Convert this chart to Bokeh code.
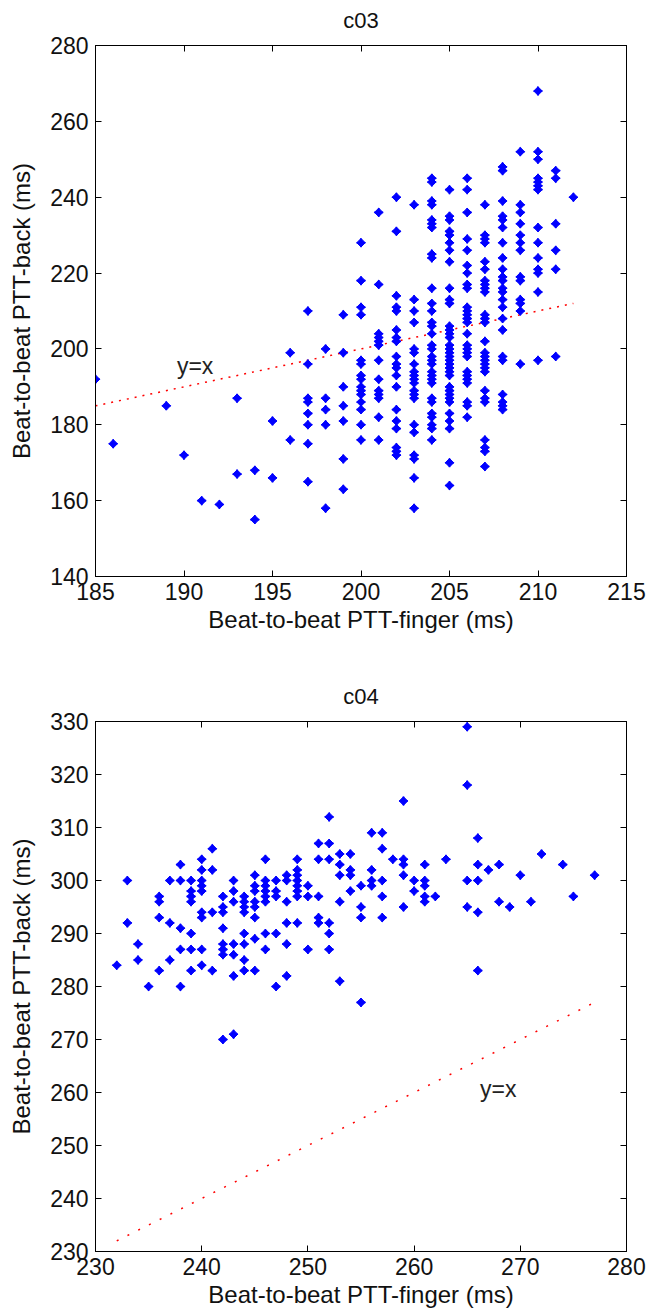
import math
from bokeh.plotting import figure
from bokeh.layouts import column
from bokeh.models import LinearAxis, Range1d, Label, FixedTicker, CustomLabelingPolicy
from bokeh.embed import file_html
from bokeh.resources import INLINE

# ---------------- data: c03 ----------------
c03_finger_cols = [185, 186, 189, 190, 191, 192, 193, 194, 195, 196, 197, 198, 199,
                   200, 201, 202, 203, 204, 205, 206, 207, 208, 209, 210, 211, 212]
c03_back_by_col = [
    [192],
    [175],
    [185],
    [172],
    [160],
    [159],
    [187, 167],
    [168, 155],
    [181, 166],
    [199, 176],
    [210, 196, 187, 186, 183, 180, 175, 165],
    [200, 187, 184, 180, 158],
    [209, 199, 190, 185, 181, 171, 163],
    [228, 218, 211, 209, 197, 196, 193, 192, 190, 189, 188, 186, 184, 180, 176],
    [236, 217, 204, 203, 202, 201, 197, 192, 189, 188, 187, 182, 176],
    [240, 231, 214, 211, 210, 205, 203, 202, 198, 196, 195, 193, 190, 184, 181, 179, 174, 173, 172],
    [238, 213, 210, 207, 200, 199, 196, 194, 193, 192, 191, 189, 188, 187, 180, 178, 172, 171, 166, 158],
    [245, 244, 239, 238, 234, 233, 232, 225, 224, 216, 212, 210, 207, 206, 204, 201, 200, 198, 197,
     196, 194, 193, 192, 191, 187, 186, 183, 182, 180, 179, 176],
    [242, 235, 234, 231, 230, 228, 226, 223, 216, 213, 212, 206, 205, 204, 203, 201, 200, 199, 198,
     197, 196, 195, 194, 193, 190, 189, 188, 187, 186, 183, 181, 179, 170, 164],
    [245, 242, 236, 229, 226, 222, 220, 217, 216, 211, 210, 209, 208, 207, 204, 201, 200, 199, 198,
     194, 193, 192, 191, 186, 185, 182],
    [238, 230, 229, 228, 223, 221, 218, 217, 216, 215, 209, 208, 207, 202, 199, 198, 197, 196, 195,
     194, 189, 187, 186, 176, 174, 173, 169],
    [248, 247, 239, 235, 234, 232, 228, 224, 221, 219, 218, 216, 215, 213, 211, 208, 205, 198, 197,
     188, 186, 185, 184],
    [252, 238, 236, 233, 230, 228, 226, 219, 218, 213, 212, 210, 196],
    [268, 252, 250, 245, 244, 243, 242, 232, 228, 224, 221, 220, 215, 197],
    [247, 245, 233, 226, 221, 198],
    [240],
]

# ---------------- data: c04 ----------------
c04_finger_cols = [232, 233, 234, 235, 236, 237, 238, 239, 240, 241, 242, 243, 244, 245, 246,
                   247, 248, 249, 250, 251, 252, 253, 254, 255, 256, 257, 258, 259, 260, 261,
                   262, 263, 265, 266, 267, 268, 269, 270, 271, 272, 274, 275, 277]
c04_back_by_col = [
    [284],
    [300, 292],
    [288, 285],
    [280],
    [297, 296, 293, 283],
    [300, 292, 285],
    [303, 300, 291, 287, 280],
    [300, 298, 297, 296, 290, 287, 283],
    [304, 302, 300, 299, 298, 294, 293, 287, 284],
    [306, 302, 294, 283],
    [297, 295, 294, 291, 288, 287, 286, 270],
    [300, 298, 296, 288, 286, 282, 271],
    [297, 296, 295, 294, 290, 288, 285, 283],
    [301, 299, 298, 296, 295, 293, 289, 283],
    [304, 300, 299, 298, 297, 296, 290, 287],
    [300, 298, 297, 290, 280],
    [301, 300, 296, 292, 288, 282],
    [304, 302, 301, 300, 299, 298, 297, 292],
    [299, 297, 287],
    [307, 304, 297, 293, 292],
    [312, 307, 304, 292, 290, 287],
    [305, 303, 301, 296, 281],
    [305, 302, 301, 298],
    [299, 295, 293, 277],
    [309, 302, 300, 299],
    [309, 306, 300, 297, 293],
    [304],
    [315, 304, 303, 301, 295],
    [300, 298],
    [303, 300, 299, 297, 296],
    [297],
    [304],
    [329, 318, 300, 295],
    [308, 303, 300, 294, 283],
    [302],
    [303, 296],
    [295],
    [301],
    [296],
    [305],
    [303],
    [297],
    [301],
]

c03_xticks = [185, 190, 195, 200, 205, 210, 215]
c03_yticks = [140, 160, 180, 200, 220, 240, 260, 280]
c04_xticks = [230, 240, 250, 260, 270, 280]
c04_yticks = [230, 240, 250, 260, 270, 280, 290, 300, 310, 320, 330]

x_label = "Beat-to-beat PTT-finger (ms)"
y_label = "Beat-to-beat PTT-back (ms)"
FONT = "Liberation Sans"
HIDE_ALL = "for (const i of indices) { indices.unset(i) }\nreturn indices"


def flatten(cols, by_col):
    xs, ys = [], []
    for c, vals in zip(cols, by_col):
        for v in vals:
            xs.append(c)
            ys.append(v)
    return xs, ys


def style_axis(ax, ticks, show_labels):
    ax.ticker = FixedTicker(ticks=ticks)
    ax.major_tick_in = 6
    ax.major_tick_out = 0
    ax.minor_tick_line_color = None
    ax.axis_line_color = "black"
    ax.major_tick_line_color = "black"
    ax.axis_label_text_font = FONT
    ax.axis_label_text_font_style = "normal"
    ax.axis_label_text_color = "#111111"
    if show_labels:
        ax.major_label_text_font = FONT
        ax.major_label_text_font_size = "23px"
        ax.major_label_text_color = "#111111"
        ax.axis_label_text_font_size = "24px"
    else:
        ax.major_label_text_font_size = "0px"
        ax.major_label_standoff = 0
        ax.major_label_policy = CustomLabelingPolicy(code=HIDE_ALL)


def make_plot(title, cols, by_col, xr, yr, xticks, yticks, lab_x, lab_y, height,
              border_top, border_bottom, dash):
    xs, ys = flatten(cols, by_col)
    p = figure(width=652, height=height, x_range=Range1d(*xr), y_range=Range1d(*yr),
               output_backend="svg", toolbar_location=None,
               min_border_left=95, min_border_right=26, min_border_top=border_top,
               min_border_bottom=border_bottom)
    p.grid.visible = False
    p.outline_line_color = "black"
    p.outline_line_alpha = 1
    p.background_fill_color = "white"
    p.border_fill_color = "white"

    style_axis(p.xaxis[0], xticks, True)
    style_axis(p.yaxis[0], yticks, True)
    p.xaxis.axis_label = x_label
    p.yaxis.axis_label = y_label
    p.xaxis.major_label_standoff = 6
    p.xaxis.axis_label_standoff = 3
    p.yaxis.major_label_standoff = 7
    p.yaxis.axis_label_standoff = 12

    # top axis: inward ticks only, its label serves as the panel title
    top = LinearAxis(axis_label=title)
    right = LinearAxis()
    style_axis(top, xticks, False)
    style_axis(right, yticks, False)
    top.axis_label_text_font_size = "22px"
    top.axis_label_standoff = 13
    p.add_layout(top, "above")
    p.add_layout(right, "right")

    lo, hi = min(xs), max(xs)
    p.line([lo, hi], [lo, hi], line_color="red", line_width=1.5, line_dash=dash)

    p.scatter(xs, ys, marker="square", angle=math.pi / 4, size=6,
              fill_color="blue", line_color="blue")
    p.scatter(xs, ys, marker="cross", size=9, line_width=1.6, line_color="blue")

    p.add_layout(Label(x=lab_x, y=lab_y, text="y=x", text_font=FONT,
                       text_font_size="23px", text_color="#222222",
                       text_baseline="alphabetic"))
    return p


p1 = make_plot("c03", c03_finger_cols, c03_back_by_col, (185, 215), (140, 280),
               c03_xticks, c03_yticks, 189.6, 195.6, 680, 45, 104, "2 6")
p2 = make_plot("c04", c04_finger_cols, c04_back_by_col, (230, 280), (230, 330),
               c04_xticks, c04_yticks, 266.2, 260.7, 633, 40, 62, "2 10")

layout = column(p1, p2)
open("out.html", "w").write(file_html(layout, INLINE))
